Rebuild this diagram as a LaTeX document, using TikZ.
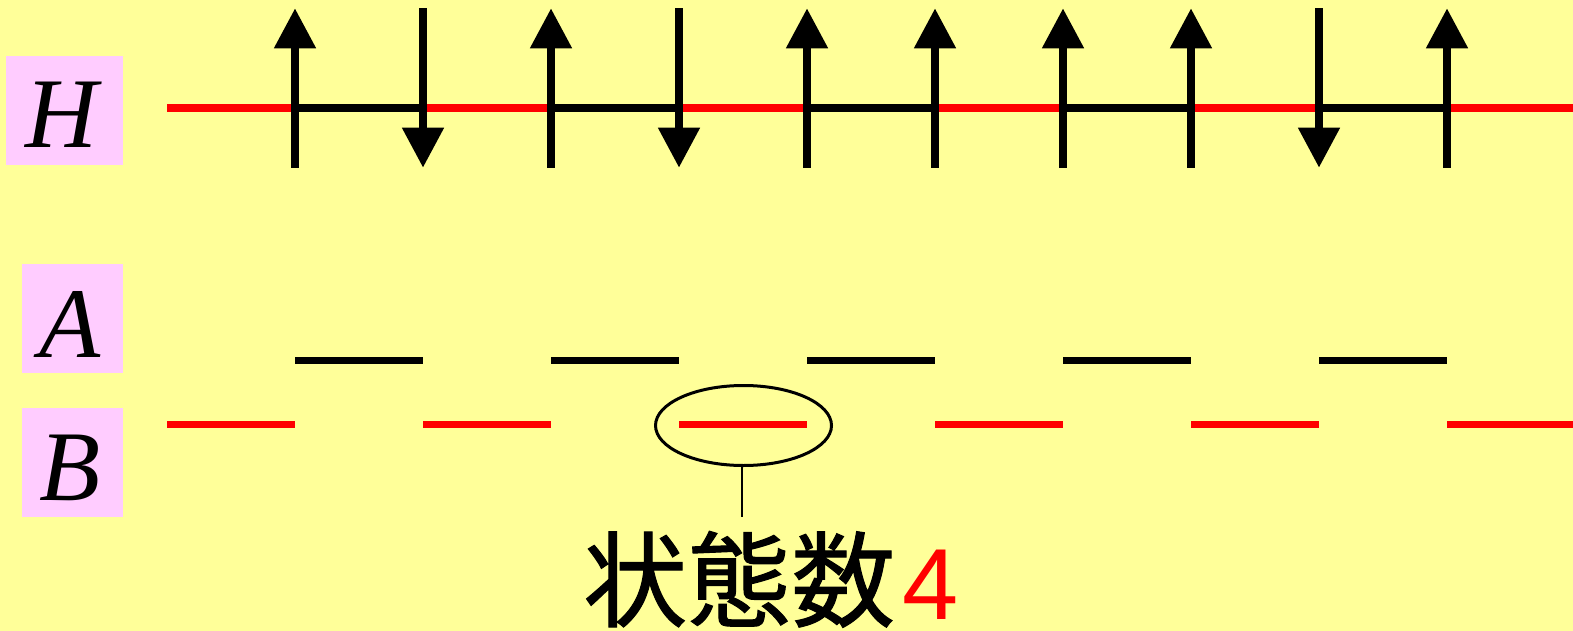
\documentclass[tikz,border=0pt]{standalone}
\usepackage{fontspec}
\setmainfont{Liberation Serif}
\newfontfamily\cjkfont{Noto Sans CJK JP}[FakeBold=1]
\newfontfamily\digitfont{Liberation Sans}
\usetikzlibrary{arrows.meta}
\definecolor{bgyellow}{HTML}{FFFF99}
\definecolor{boxpink}{HTML}{FFCCFF}
\definecolor{segred}{HTML}{FF0000}
\tikzset{
  labelbox/.style={fill=boxpink, draw=none, inner sep=0pt},
  labeltext/.style={inner sep=0pt, anchor=base, font=\fontsize{100}{120}\selectfont\itshape},
  redseg/.style={draw=segred, line width=7.6pt},
  blackseg/.style={draw=black, line width=7.6pt},
  spinup/.style={draw=black, line width=8pt, -{Triangle[length=40pt,width=40pt]}},
  spindown/.style={draw=black, line width=8pt, -{Triangle[length=40pt,width=40pt]}},
  stateoval/.style={draw=black, line width=3pt},
  pointer/.style={draw=black, line width=1.5pt},
}
\begin{document}
\begin{tikzpicture}[x=1pt,y=-1pt]
\fill[bgyellow] (0,0) rectangle (1573,631);
\useasboundingbox (0,0) rectangle (1573,631);

% label boxes
\node[labelbox, minimum width=117pt, minimum height=109pt] (hbox) at (64.5,110.5) {};
\node[labelbox, minimum width=101pt, minimum height=109pt] (abox) at (72.5,318.5) {};
\node[labelbox, minimum width=101pt, minimum height=109pt] (bbox) at (72.5,462.5) {};
\node[labeltext] (hlab) at (62,148) {H};
\node[labeltext] (alab) at (70,357) {A};
\node[labeltext] (blab) at (70,500) {B};

% boundaries b_k = 167 + 128 k
\foreach \k in {0,...,11} {
  \coordinate (t\k) at ({167+128*\k},108.3);
  \coordinate (a\k) at ({167+128*\k},360.3);
  \coordinate (b\k) at ({167+128*\k},424.5);
}
% H row
\foreach \k [evaluate=\k as \n using int(\k+1)] in {0,2,4,6,8,10} {
  \draw[redseg] (t\k) -- (t\n);
  \draw[redseg] (b\k) -- (b\n);
}
\foreach \k [evaluate=\k as \n using int(\k+1)] in {1,3,5,7,9} {
  \draw[blackseg] (t\k) -- (t\n);
  \draw[blackseg] (a\k) -- (a\n);
}

% spins
\foreach \k in {1,...,10} {
  \coordinate (top\k) at ({167+128*\k},8.3);
  \coordinate (bot\k) at ({167+128*\k},167.7);
}
\foreach \k in {1,3,5,6,7,8,10} {
  \draw[spinup] (bot\k) -- (top\k);
}
\foreach \k in {2,4,9} {
  \draw[spindown] (top\k) -- (bot\k);
}

% highlighted state
\draw[stateoval] (743.5,425.5) ellipse [x radius=88, y radius=40];
\coordinate (ovalbottom) at (742,466);
\coordinate (textpoint) at (742,517);
\draw[pointer] (ovalbottom) -- (textpoint);

\node[inner sep=0pt, anchor=base west, font=\fontsize{104}{120}\selectfont\cjkfont] (statetext) at (583,619) {状態数};
\node[inner sep=0pt, anchor=base west, text=segred, font=\fontsize{101}{120}\selectfont\digitfont] (statenum) at (902,619) {4};
\end{tikzpicture}
\end{document}
